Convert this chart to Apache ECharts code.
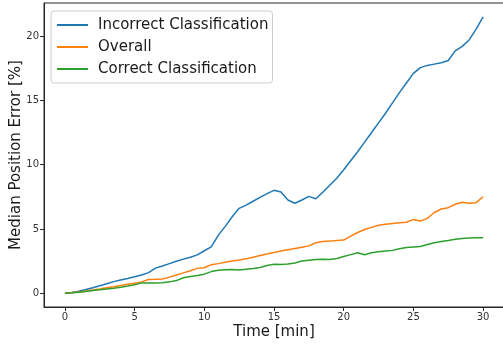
<!DOCTYPE html>
<html>
<head>
<meta charset="utf-8">
<script src="https://cdn.jsdelivr.net/npm/echarts@6/dist/echarts.min.js"></script>
<style>html,body{margin:0;padding:0;background:#fff;}#c{width:503px;height:345px;}</style>
</head>
<body>
<div id="c"></div>
<script>
const times = [0,0.5,1,1.5,2,2.5,3,3.5,4,4.5,5,5.5,6,6.5,7,7.5,8,8.5,9,9.5,10,10.5,11,11.5,12,12.5,13,13.5,14,14.5,15,15.5,16,16.5,17,17.5,18,18.5,19,19.5,20,20.5,21,21.5,22,22.5,23,23.5,24,24.5,25,25.5,26,26.5,27,27.5,28,28.5,29,29.5,30];
const incorrect = [0,0.05,0.15,0.28,0.42,0.58,0.74,0.9,1.03,1.15,1.28,1.42,1.6,1.95,2.12,2.3,2.48,2.65,2.8,2.98,3.3,3.6,4.5,5.2,5.95,6.6,6.85,7.15,7.45,7.75,8.0,7.87,7.25,7.0,7.25,7.53,7.35,7.85,8.4,8.94,9.6,10.3,11.0,11.75,12.5,13.25,14.0,14.8,15.6,16.35,17.1,17.55,17.72,17.82,17.92,18.1,18.85,19.2,19.7,20.55,21.5];
const overall = [0,0.04,0.1,0.17,0.25,0.33,0.42,0.5,0.6,0.7,0.78,0.88,1.07,1.08,1.1,1.25,1.42,1.58,1.75,1.93,1.98,2.22,2.3,2.4,2.5,2.58,2.67,2.8,2.93,3.05,3.17,3.28,3.38,3.48,3.58,3.68,3.92,4.02,4.05,4.1,4.13,4.44,4.72,4.95,5.12,5.28,5.37,5.42,5.47,5.52,5.74,5.62,5.82,6.28,6.55,6.65,6.92,7.08,7.0,7.04,7.5];
const correct = [0,0.03,0.08,0.14,0.2,0.26,0.32,0.38,0.46,0.55,0.65,0.8,0.8,0.8,0.82,0.88,0.98,1.2,1.3,1.38,1.48,1.68,1.78,1.82,1.85,1.8,1.86,1.92,2.0,2.15,2.25,2.23,2.27,2.35,2.5,2.56,2.62,2.64,2.62,2.7,2.85,3.0,3.15,2.99,3.15,3.22,3.28,3.33,3.45,3.56,3.6,3.63,3.78,3.92,4.02,4.1,4.2,4.26,4.3,4.31,4.31];
const xTicks = [0,5,10,15,20,25,30];
const yTicks = [0,5,10,15,20];
const seriesNames = ['Incorrect Classification','Overall','Correct Classification'];
const colors = ['#1f77b4','#ff7f0e','#2ca02c'];

const FONT = 'DejaVu Sans';
const pair = arr => times.map((t, i) => [t, arr[i]]);
const chart = echarts.init(document.getElementById('c'), null, {renderer: 'canvas'});
chart.setOption({
  animation: false,
  textStyle: {fontFamily: FONT},
  grid: {left: 44, top: 3, right: -1, bottom: 38, containLabel: false, outerBoundsMode: 'none',
         show: true, borderColor: '#262626', borderWidth: 1, backgroundColor: 'transparent'},
  legend: {
    orient: 'vertical', left: 51, top: 11,
    data: seriesNames,
    icon: 'rect', itemWidth: 31, itemHeight: 2, itemGap: 4,
    padding: [5, 4, 5, 6],
    borderColor: '#cccccc', borderWidth: 1, borderRadius: 3,
    backgroundColor: 'rgba(255,255,255,0.8)',
    textStyle: {fontFamily: FONT, fontSize: 15, color: '#1a1a1a', lineHeight: 18, padding: [0,0,0,5]}
  },
  xAxis: {
    type: 'value', min: -1.5, max: 31.5,
    name: 'Time [min]', nameLocation: 'middle', nameGap: 18, nameMoveOverlap: false,
    nameTextStyle: {fontFamily: FONT, fontSize: 15, color: '#1a1a1a'},
    axisLine: {show: true, onZero: false, lineStyle: {color: '#262626', width: 1}},
    axisTick: {show: true, customValues: xTicks, length: 4, lineStyle: {color: '#262626'}},
    axisLabel: {customValues: xTicks, fontSize: 10, color: '#333', margin: 5, fontFamily: FONT},
    splitLine: {show: false}
  },
  yAxis: {
    type: 'value', min: -1.075, max: 22.575,
    name: 'Median Position Error [%]', nameLocation: 'middle', nameGap: 20, nameRotate: 90, nameMoveOverlap: false,
    nameTextStyle: {fontFamily: FONT, fontSize: 15, color: '#1a1a1a'},
    axisLine: {show: true, onZero: false, lineStyle: {color: '#262626', width: 1}},
    axisTick: {show: true, customValues: yTicks, length: 4, lineStyle: {color: '#262626'}},
    axisLabel: {customValues: yTicks, fontSize: 10, color: '#333', margin: 5, fontFamily: FONT},
    splitLine: {show: false}
  },
  series: [incorrect, overall, correct].map((arr, i) => ({
    name: seriesNames[i], type: 'line', data: pair(arr),
    showSymbol: false, symbol: 'none',
    lineStyle: {color: colors[i], width: 1.5},
    itemStyle: {color: colors[i]}
  }))
});
</script>
</body>
</html>
